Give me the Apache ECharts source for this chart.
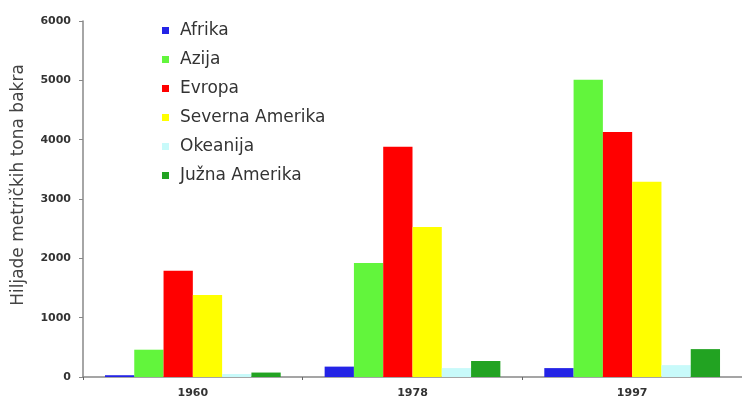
<!DOCTYPE html>
<html>
<head>
<meta charset="utf-8">
<script src="https://cdn.jsdelivr.net/npm/echarts@6/dist/echarts.min.js"></script>
<style>html,body{margin:0;padding:0;background:#fff}#c{width:742px;height:409px}</style>
</head>
<body>
<div id="c"></div>
<script>
var categories = ['1960', '1978', '1997'];
var seriesNames = ['Afrika', 'Azija', 'Evropa', 'Severna Amerika', 'Okeanija', 'Južna Amerika'];
var afrika = [30, 175, 150];
var azija = [460, 1920, 5010];
var evropa = [1790, 3880, 4130];
var severnaAmerika = [1380, 2530, 3290];
var okeanija = [50, 150, 200];
var juznaAmerika = [75, 270, 470];
var yTicks = [0, 1000, 2000, 3000, 4000, 5000, 6000];
var colors = ['#2424e6', '#62f53c', '#ff0000', '#ffff00', '#c8fafa', '#22a322'];

var values = [afrika, azija, evropa, severnaAmerika, okeanija, juznaAmerika];
var chart = echarts.init(document.getElementById('c'));
chart.setOption({
  animation: false,
  backgroundColor: '#fff',
  color: colors,
  textStyle: {fontFamily: 'DejaVu Sans, sans-serif'},
  legend: {
    orient: 'vertical', left: 162, top: 22, padding: 0,
    itemWidth: 7, itemHeight: 7, itemGap: 12,
    icon: 'rect',
    textStyle: {fontSize: 17, color: '#333', lineHeight: 17, padding: [0, 0, 0, 6]},
    data: seriesNames
  },
  grid: {left: 83, top: 21, bottom: 32, width: 669},
  xAxis: {
    type: 'category', data: categories,
    axisLine: {lineStyle: {color: '#888', width: 1.5}},
    axisTick: {show: true, length: 3, lineStyle: {color: '#666'}},
    axisLabel: {fontSize: 11, fontWeight: 'bold', color: '#333', margin: 11}
  },
  yAxis: {
    type: 'value', min: yTicks[0], max: yTicks[yTicks.length - 1], interval: 1000,
    name: 'Hiljade metričkih tona bakra', nameLocation: 'middle', nameGap: 56,
    nameTextStyle: {fontSize: 17, color: '#444', padding: [0, 0, 0, 28]},
    axisLine: {show: true, lineStyle: {color: '#888', width: 1.5}},
    axisTick: {show: true, length: 4, lineStyle: {color: '#888'}},
    splitLine: {show: false},
    axisLabel: {fontSize: 11, fontWeight: 'bold', color: '#333', margin: 12, formatter: function (v) { return String(v); }}
  },
  series: seriesNames.map(function (n, i) {
    return {name: n, type: 'bar', data: values[i], barGap: '0%', barCategoryGap: '20%', itemStyle: {color: colors[i]}};
  })
});
</script>
</body>
</html>
